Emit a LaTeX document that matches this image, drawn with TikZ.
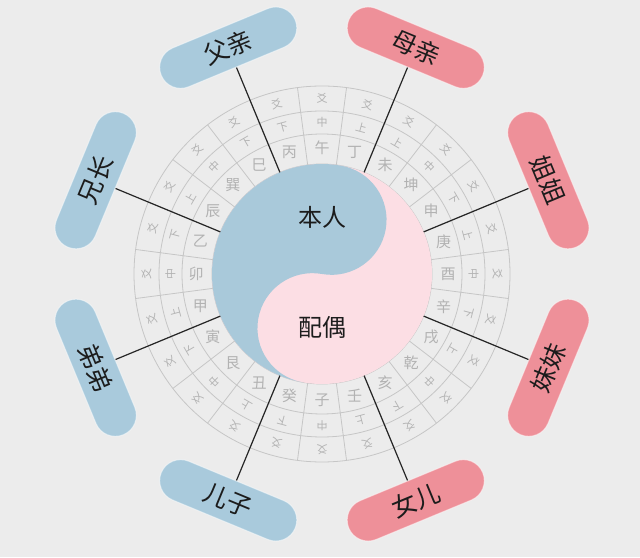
\documentclass[tikz,border=0pt]{standalone}
\usepackage{fontspec}
\newfontfamily\cjk{Noto Sans CJK SC}
\definecolor{bgc}{HTML}{ECECEC}
\definecolor{pillblue}{HTML}{A9CADC}
\definecolor{pillpink}{HTML}{EE9099}
\definecolor{yyblue}{HTML}{A9C9DA}
\definecolor{yypink}{HTML}{FCDEE4}
\definecolor{ringc}{HTML}{C6C6C6}
\definecolor{ringtxt}{HTML}{B2B2B2}
\definecolor{txt}{HTML}{1C1C1C}
\begin{document}
\begin{tikzpicture}[x=1pt,y=1pt,
  ringline/.style={draw=ringc,line width=0.8pt},
  mtn/.style={text=ringtxt,font=\cjk\fontsize{15}{15}\selectfont,inner sep=0pt},
  yao/.style={text=ringtxt,font=\cjk\fontsize{11}{11}\selectfont,inner sep=0pt},
  pillbox/.style={rectangle,rounded corners=21pt,minimum width=145pt,minimum height=42pt,inner sep=0pt,
    text=txt,font=\cjk\fontsize{25}{25}\selectfont,draw=white,draw opacity=0.5,line width=1pt},
  bluepill/.style={pillbox,fill=pillblue},
  pinkpill/.style={pillbox,fill=pillpink},
  conn/.style={draw=black!85,line width=1.2pt},
  centertxt/.style={text=txt,font=\cjk\fontsize{24}{24}\selectfont,inner sep=0pt}]
\fill[bgc] (0,0) rectangle (640,557);
\useasboundingbox (0,0) rectangle (640,557);
\begin{scope}[shift={(322,283)}]
  % rings
  \foreach \r in {110,140,163,188} \draw[ringline] (0,0) circle (\r);
  \foreach \i in {0,...,23} \draw[ringline] ({97.5-15*\i}:110) -- ({97.5-15*\i}:188);
  % 24 mountains
  \foreach \m [count=\i from 0] in {午,丁,未,坤,申,庚,酉,辛,戌,乾,亥,壬,子,癸,丑,艮,寅,甲,卯,乙,辰,巽,巳,丙}
    \node[mtn] (m\i) at ({90-15*\i}:126) {\m};
  \foreach \m [count=\i from 0] in {中,上,上,中,下,上,中,下,上,中,下,上,中,下,上,中,下,上,中,下,上,中,下,下}
    \node[yao,rotate={-15*\i}] (p\i) at ({90-15*\i}:151.5) {\m};
  \foreach \i in {0,...,23}
    \node[yao,rotate={-15*\i}] (y\i) at ({90-15*\i}:175.5) {爻};
  % yin-yang
  \begin{scope}[rotate=-10]
    \fill[yypink] (0,0) circle (110);
    \fill[yyblue] (90:110) arc[start angle=90,end angle=270,radius=110]
      arc[start angle=270,end angle=90,radius=55]
      arc[start angle=270,end angle=450,radius=55] -- cycle;
  \end{scope}
  \node[centertxt] (self) at (0,57) {本人};
  \node[centertxt] (spouse) at (0,-53) {配偶};
  % edge points
  \foreach \a/\n in {112.5/e1,67.5/e2,22.5/e3,-22.5/e4,-67.5/e5,-112.5/e6,-157.5/e7,157.5/e8}
    \coordinate (\n) at (\a:110);
  % pills
  \node[bluepill,rotate=22.5] (father) at (112.5:245) {父亲};
  \node[pinkpill,rotate=-22.5] (mother) at (67.5:245) {母亲};
  \node[pinkpill,rotate=-67.5] (jiejie) at (22.5:245) {姐姐};
  \node[pinkpill,rotate=67.5] (meimei) at (-22.5:245) {妹妹};
  \node[pinkpill,rotate=22.5] (daughter) at (-67.5:245) {女儿};
  \node[bluepill,rotate=-22.5] (son) at (-112.5:245) {儿子};
  \node[bluepill,rotate=-67.5] (didi) at (-157.5:245) {弟弟};
  \node[bluepill,rotate=67.5] (xiong) at (157.5:245) {兄长};
  % connectors
  \draw[conn] (father.south) -- (e1);
  \draw[conn] (mother.south) -- (e2);
  \draw[conn] (jiejie.south) -- (e3);
  \draw[conn] (meimei.north) -- (e4);
  \draw[conn] (daughter.north) -- (e5);
  \draw[conn] (son.north) -- (e6);
  \draw[conn] (didi.north) -- (e7);
  \draw[conn] (xiong.south) -- (e8);
\end{scope}
\end{tikzpicture}
\end{document}
